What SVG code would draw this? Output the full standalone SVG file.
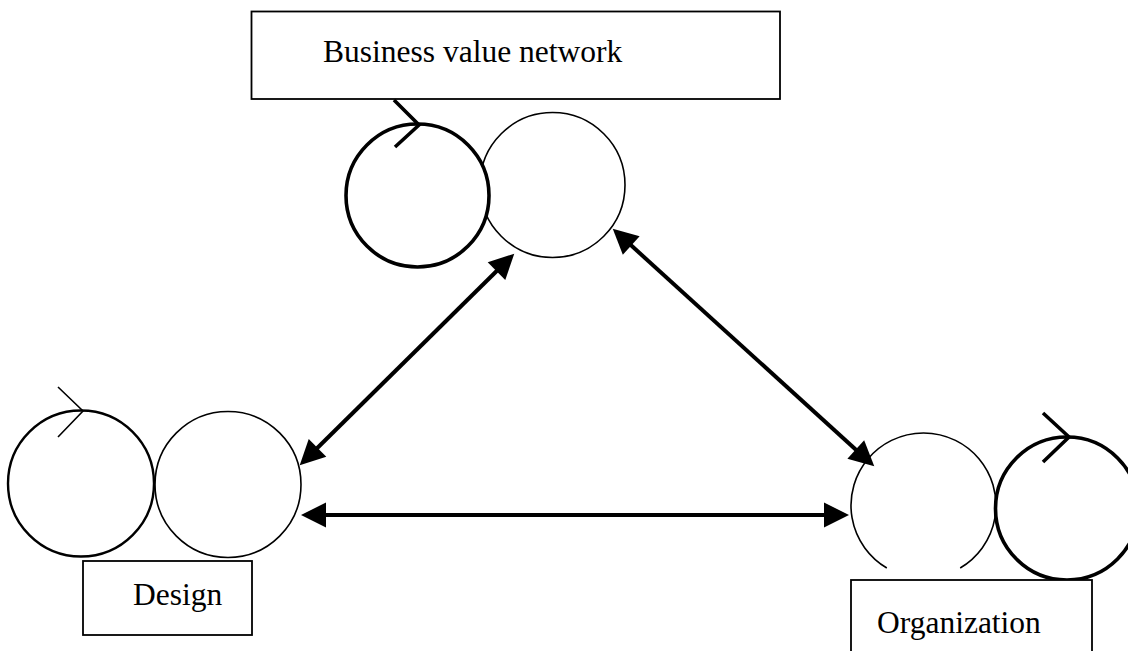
<svg xmlns="http://www.w3.org/2000/svg" width="1128" height="651" viewBox="0 0 1128 651">
<style>
.bg{fill:#fff}
.thin{fill:none;stroke:#000;stroke-width:1.6}
.mid{fill:none;stroke:#000;stroke-width:2.4}
.thick{fill:none;stroke:#000;stroke-width:3.6}
.filled{fill:#fff}
.box{fill:#fff;stroke:#000;stroke-width:1.8}
.lbl{font-family:"Liberation Serif","Times New Roman",serif;font-size:31.5px;fill:#000}
.conn{fill:none;stroke:#000;stroke-width:4}
</style>
<defs>
<marker id="ah" markerUnits="userSpaceOnUse" markerWidth="30" markerHeight="28" viewBox="-2 -13 30 26" refX="1" refY="0" orient="auto-start-reverse">
<path d="M0,-12.5 L25,0 L0,12.5 z" fill="#000"/>
</marker>
</defs>
<rect class="bg" x="0" y="0" width="1128" height="651"/>

<g id="node-business">
<rect class="box" x="251.5" y="11.5" width="528.5" height="87.5"/>
<text class="lbl" x="323" y="62">Business value network</text>
<circle class="thin" cx="552.5" cy="185" r="72.5"/>
<circle class="thick filled" cx="417.5" cy="195.5" r="71.5"/>
<polyline class="thick" points="394,100 419,125 395,147"/>
</g>

<g id="node-design">
<circle class="mid" cx="81" cy="483.5" r="73"/>
<circle class="thin" cx="228" cy="484.5" r="73"/>
<polyline class="thin" points="58,387 83,411 58,437"/>
<rect class="box" x="83" y="561" width="169" height="74"/>
<text class="lbl" x="133" y="605">Design</text>
</g>

<g id="node-organization">
<path class="thin" d="M886.8,568 A72.5,72.5 0 1 1 960.2,568"/>
<circle class="thick" cx="1067" cy="508.5" r="71.5"/>
<polyline class="thick" points="1043,413 1069,437 1043,462"/>
<rect class="box" x="851" y="580" width="241" height="90"/>
<text class="lbl" x="877" y="633">Organization</text>
</g>

<g id="connectors">
<line class="conn" x1="316.8" y1="448.5" x2="497.2" y2="270.5" marker-start="url(#ah)" marker-end="url(#ah)"/>
<line class="conn" x1="630.5" y1="244.8" x2="856.5" y2="450.2" marker-start="url(#ah)" marker-end="url(#ah)"/>
<line class="conn" x1="325" y1="515" x2="825" y2="515" marker-start="url(#ah)" marker-end="url(#ah)"/>
</g>
</svg>
